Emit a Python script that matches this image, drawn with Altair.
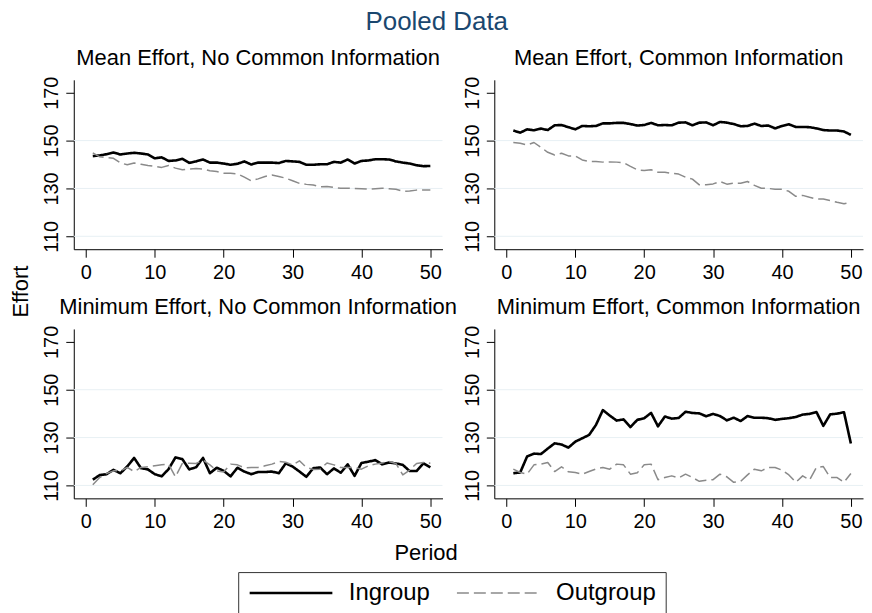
import altair as alt
import pandas as pd

PERIODS = list(range(1, 51))
GROUPS = ["Ingroup", "Outgroup"]
PANEL_TITLES = [
    "Mean Effort, No Common Information",
    "Mean Effort, Common Information",
    "Minimum Effort, No Common Information",
    "Minimum Effort, Common Information",
]

MEAN_NOCI_IN = [143.5, 143.8, 144.3, 145.0, 144.2, 144.6, 144.9, 144.6, 144.2, 142.6,
                143.0, 141.5, 141.7, 142.4, 140.7, 141.3, 142.1, 140.8, 140.8, 140.4,
                139.9, 140.3, 141.3, 140.0, 140.8, 140.8, 140.8, 140.6, 141.5, 141.3,
                141.1, 139.9, 139.9, 140.1, 140.1, 141.1, 140.8, 142.1, 140.4, 141.5,
                141.7, 142.2, 142.2, 142.1, 141.3, 140.8, 140.4, 139.7, 139.3, 139.4]
MEAN_NOCI_OUT = [144.9, 143.2, 142.9, 142.6, 140.7, 139.9, 140.6, 140.1, 139.6, 139.2,
                 138.8, 139.6, 138.5, 137.8, 138.1, 138.3, 138.1, 137.4, 137.1, 136.4,
                 136.3, 136.1, 134.7, 133.2, 134.0, 135.0, 135.6, 135.0, 134.3, 133.2,
                 132.1, 131.7, 131.4, 130.7, 130.8, 130.4, 130.1, 130.1, 130.0, 129.9,
                 129.7, 129.9, 130.1, 129.9, 129.7, 128.8, 128.9, 129.3, 129.4, 129.4]
MEAN_CI_IN = [154.2, 153.3, 154.7, 154.3, 155.0, 154.4, 156.4, 156.5, 155.6, 154.7,
              156.1, 156.0, 156.1, 157.2, 157.2, 157.4, 157.4, 156.9, 156.3, 156.5,
              157.4, 156.4, 156.5, 156.4, 157.5, 157.6, 156.4, 157.5, 157.6, 156.4,
              157.8, 157.5, 156.9, 156.0, 156.1, 157.1, 156.1, 156.3, 155.1, 156.1,
              156.8, 155.7, 155.7, 155.6, 155.1, 154.4, 154.2, 154.2, 153.8, 152.4]
MEAN_CI_OUT = [149.2, 148.9, 148.2, 149.2, 147.2, 145.1, 144.0, 144.7, 143.6, 143.6,
               141.9, 141.3, 141.3, 141.0, 141.1, 141.0, 140.8, 139.2, 137.8, 137.5,
               137.8, 136.8, 136.8, 136.3, 136.0, 134.7, 133.9, 131.5, 131.5, 131.9,
               132.9, 131.8, 132.2, 132.2, 132.9, 131.3, 130.1, 130.0, 129.7, 129.7,
               128.8, 126.7, 127.1, 126.3, 125.6, 125.6, 124.9, 124.2, 123.6, 124.3]
MIN_NOCI_IN = [112.4, 114.3, 114.7, 116.5, 115.1, 117.9, 121.5, 117.2, 116.7, 114.7,
               113.8, 116.8, 121.7, 121.0, 116.7, 117.6, 121.5, 115.1, 117.4, 116.1,
               113.8, 117.4, 115.8, 114.7, 115.6, 115.6, 115.8, 115.1, 119.2, 117.9,
               115.8, 113.6, 117.2, 117.5, 114.7, 117.1, 115.3, 118.8, 114.0, 119.4,
               119.9, 120.6, 118.8, 119.6, 119.2, 118.6, 116.0, 116.0, 119.2, 117.5]
MIN_NOCI_OUT = [110.3, 113.3, 115.0, 116.1, 116.1, 117.5, 115.8, 117.5, 117.8, 118.2,
                118.6, 118.9, 113.6, 119.2, 119.3, 119.2, 120.6, 118.6, 116.1, 115.6,
                118.9, 118.6, 117.4, 117.5, 117.5, 118.2, 118.9, 120.0, 119.7, 118.6,
                120.3, 117.5, 116.7, 116.8, 119.4, 118.6, 117.5, 117.5, 117.5, 116.8,
                118.2, 118.9, 119.4, 120.0, 119.2, 114.4, 116.4, 119.2, 119.6, 119.3]
MIN_CI_IN = [115.1, 115.4, 122.1, 123.3, 123.1, 125.4, 127.6, 127.1, 125.8, 128.3,
             129.7, 131.1, 135.3, 141.5, 139.2, 137.1, 137.6, 134.4, 137.4, 138.1,
             140.3, 134.7, 138.8, 137.9, 138.2, 140.8, 140.3, 140.1, 138.9, 139.9,
             139.0, 137.2, 138.3, 136.9, 139.0, 138.3, 138.3, 138.1, 137.4, 137.8,
             138.1, 138.6, 139.6, 139.9, 140.7, 134.9, 139.7, 140.0, 140.6, 127.5]
MIN_CI_OUT = [116.8, 115.4, 114.7, 118.6, 118.9, 119.6, 115.8, 117.8, 115.7, 115.4,
              114.7, 115.8, 116.9, 117.5, 116.8, 118.9, 118.6, 114.7, 115.3, 118.6,
              118.9, 112.4, 113.3, 114.0, 113.1, 114.7, 113.3, 111.7, 112.2, 112.4,
              114.7, 113.6, 111.3, 111.7, 114.4, 116.8, 116.1, 117.5, 117.5, 116.4,
              114.4, 111.3, 114.0, 112.2, 117.5, 117.9, 113.3, 113.3, 111.3, 115.0]

Y_TICKS = [110, 130, 150, 170]
X_TICKS = [0, 10, 20, 30, 40, 50]
GRID_VALUES = [110, 130, 150]

SERIES = [
    (MEAN_NOCI_IN, MEAN_NOCI_OUT),
    (MEAN_CI_IN, MEAN_CI_OUT),
    (MIN_NOCI_IN, MIN_NOCI_OUT),
    (MIN_CI_IN, MIN_CI_OUT),
]

rows = []
for idx, (ing, outg) in enumerate(SERIES):
    for p, v in zip(PERIODS, ing):
        rows.append({"panel": idx, "Period": p, "Effort": v, "group": GROUPS[0]})
    for p, v in zip(PERIODS, outg):
        rows.append({"panel": idx, "Period": p, "Effort": v, "group": GROUPS[1]})
df = pd.DataFrame(rows)
grid_df = pd.DataFrame({"g": GRID_VALUES})

FONT = "Liberation Sans"
W, H = 370, 170
XSCALE = alt.Scale(domain=[-1.76, 51.76], nice=False, zero=False)
YSCALE = alt.Scale(domain=[104.6, 175.4], nice=False, zero=False)

LEG = dict(title=None, orient="none", legendX=165, legendY=494, direction="horizontal",
           symbolType="M-0.95,0H7.35", symbolSize=400, labelFontSize=24, labelFont=FONT,
           labelColor="black", labelOffset=78, columnPadding=23, strokeColor="#333333",
           fillColor="white", padding=9)


def panel(idx):
    yaxis_kw = dict(values=Y_TICKS, labelAngle=270, labelFontSize=20, labelFont=FONT,
                    labelColor="black", tickSize=8, tickColor="black", domainColor="black",
                    grid=False, labelPadding=4, title=None)
    xaxis_kw = dict(values=X_TICKS, labelFontSize=20, labelFont=FONT, labelColor="black",
                    tickSize=8, tickColor="black", domainColor="black", grid=False,
                    labelPadding=5, labelAngle=0, title=None)
    if idx == 0:
        yaxis_kw.update(title="Effort", titleX=-53, titleY=212, titleAngle=270,
                        titleAlign="center", titleBaseline="middle", titleFontSize=22,
                        titleFont=FONT, titleFontWeight="normal", titleColor="black")
    if idx == 2:
        xaxis_kw.update(title="Period", titleX=353, titleY=54, titleAlign="center",
                        titleBaseline="middle", titleFontSize=22, titleFont=FONT,
                        titleFontWeight="normal", titleColor="black")
    yaxis = alt.Axis(**yaxis_kw)
    xaxis = alt.Axis(**xaxis_kw)

    grid = alt.Chart(grid_df).mark_rule(color="#e8f0f4", strokeWidth=1).encode(
        y=alt.Y("g:Q", scale=YSCALE, axis=yaxis)
    )
    lines = alt.Chart(df).transform_filter(alt.datum.panel == idx).mark_line(
        strokeJoin="round"
    ).encode(
        x=alt.X("Period:Q", scale=XSCALE, axis=xaxis),
        y=alt.Y("Effort:Q", scale=YSCALE, axis=yaxis),
        color=alt.Color("group:N", scale=alt.Scale(domain=GROUPS, range=["black", "#8a8a8a"]),
                        legend=alt.Legend(**LEG)),
        strokeDash=alt.StrokeDash("group:N", scale=alt.Scale(domain=GROUPS, range=[[1, 0], [12, 5]]),
                                  legend=alt.Legend(**LEG)),
        strokeWidth=alt.StrokeWidth("group:N", scale=alt.Scale(domain=GROUPS, range=[2.6, 1.5]),
                                    legend=alt.Legend(**LEG)),
        detail="group:N",
    )
    return alt.layer(grid, lines).properties(
        width=W, height=H,
        title=alt.TitleParams(PANEL_TITLES[idx], fontSize=22, font=FONT, fontWeight="normal",
                              color="black", anchor="middle", offset=6),
    )


chart = alt.concat(
    panel(0), panel(1), panel(2), panel(3),
    columns=2, spacing={"row": 80, "column": 52}, bounds="flush",
).properties(
    title=alt.TitleParams("Pooled Data", fontSize=26, font=FONT, fontWeight="normal",
                          color="#1a476f", anchor="middle", offset=12),
    padding={"left": 2, "top": 0, "right": 0, "bottom": 0},
).configure_view(strokeWidth=0)

chart.save("out.html", embed_options={"renderer": "svg", "actions": False})
